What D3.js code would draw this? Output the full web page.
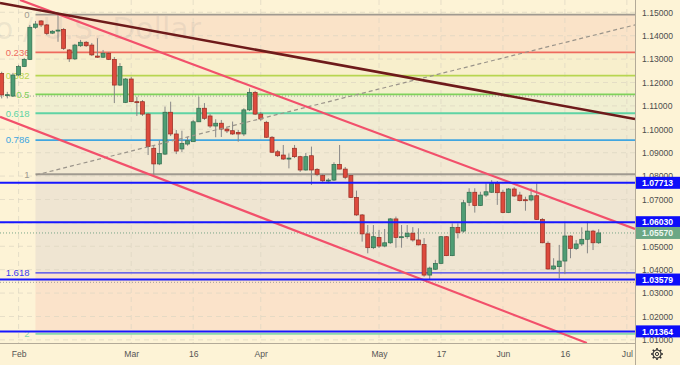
<!DOCTYPE html>
<html>
<head>
<meta charset="utf-8">
<script src="https://cdn.jsdelivr.net/npm/d3@7"></script>
<style>
  html, body { margin: 0; padding: 0; background: #fdf3d6; }
  svg { display: block; font-family: "Liberation Sans", Arial, sans-serif; }
</style>
</head>
<body>
<svg></svg>
<script>
// EUR/USD daily, 27 Jan - 24 Jun 2022 (one value per trading day)
const opens = [
  1.1239, 1.1146, 1.1142, 1.1232, 1.1268, 1.1299, 1.1436, 1.1463, 1.1446, 1.1411,
  1.1420, 1.1427, 1.1339, 1.1301, 1.1357, 1.1372, 1.1360, 1.1313, 1.1308, 1.1325,
  1.1299, 1.1189, 1.1115, 1.1215, 1.1118, 1.1118, 1.1065, 1.0919, 1.0852, 1.0894,
  1.1073, 1.0980, 1.0916, 1.0937, 1.0947, 1.1032, 1.1090, 1.1057, 1.1014, 1.1026,
  1.1001, 1.0994, 1.0987, 1.0980, 1.1083, 1.1158, 1.1065, 1.1030, 1.0966, 1.0904,
  1.0890, 1.0876, 1.0919, 1.0883, 1.0826, 1.0887, 1.0829, 1.0802, 1.0781, 1.0783,
  1.0850, 1.0830, 1.0802, 1.0709, 1.0634, 1.0553, 1.0494, 1.0538, 1.0501, 1.0515,
  1.0617, 1.0538, 1.0541, 1.0556, 1.0527, 1.0508, 1.0377, 1.0402, 1.0427, 1.0541,
  1.0460, 1.0581, 1.0565, 1.0688, 1.0731, 1.0674, 1.0719, 1.0731, 1.0769, 1.0731,
  1.0644, 1.0745, 1.0719, 1.0699, 1.0698, 1.0716, 1.0615, 1.0513, 1.0403, 1.0413,
  1.0437, 1.0544, 1.0491, 1.0510, 1.0530, 1.0565, 1.0515
];
const highs = [
  1.1246, 1.1160, 1.1241, 1.1275, 1.1305, 1.1446, 1.1463, 1.1467, 1.1450, 1.1424,
  1.1489, 1.1433, 1.1343, 1.1365, 1.1382, 1.1377, 1.1369, 1.1389, 1.1339, 1.1330,
  1.1309, 1.1283, 1.1219, 1.1224, 1.1139, 1.1125, 1.1070, 1.0929, 1.0954, 1.1097,
  1.1118, 1.0997, 1.0994, 1.0968, 1.1040, 1.1139, 1.1112, 1.1065, 1.1043, 1.1040,
  1.1006, 1.1033, 1.0997, 1.1090, 1.1175, 1.1164, 1.1074, 1.1036, 1.0971, 1.0912,
  1.0933, 1.0897, 1.0933, 1.0887, 1.0899, 1.0926, 1.0834, 1.0809, 1.0791, 1.0859,
  1.0933, 1.0839, 1.0805, 1.0738, 1.0638, 1.0591, 1.0591, 1.0570, 1.0574, 1.0621,
  1.0627, 1.0591, 1.0591, 1.0582, 1.0577, 1.0535, 1.0413, 1.0442, 1.0544, 1.0544,
  1.0598, 1.0598, 1.0698, 1.0748, 1.0748, 1.0733, 1.0769, 1.0783, 1.0779, 1.0741,
  1.0749, 1.0753, 1.0733, 1.0712, 1.0748, 1.0769, 1.0621, 1.0521, 1.0449, 1.0506,
  1.0605, 1.0547, 1.0527, 1.0581, 1.0605, 1.0570, 1.0573
];
const lows = [
  1.1132, 1.1132, 1.1138, 1.1228, 1.1266, 1.1296, 1.1429, 1.1437, 1.1403, 1.1407,
  1.1374, 1.1339, 1.1288, 1.1296, 1.1352, 1.1352, 1.1313, 1.1305, 1.1305, 1.1296,
  1.1112, 1.1185, 1.1112, 1.1117, 1.1057, 1.1057, 1.0890, 1.0805, 1.0847, 1.0890,
  1.0971, 1.0894, 1.0903, 1.0930, 1.0946, 1.1031, 1.1040, 1.1006, 1.0966, 1.0967,
  1.0984, 1.0976, 1.0947, 1.0971, 1.1078, 1.1061, 1.1036, 1.0963, 1.0899, 1.0882,
  1.0869, 1.0833, 1.0877, 1.0818, 1.0823, 1.0762, 1.0800, 1.0774, 1.0769, 1.0779,
  1.0829, 1.0787, 1.0706, 1.0630, 1.0520, 1.0470, 1.0488, 1.0493, 1.0496, 1.0510,
  1.0494, 1.0494, 1.0532, 1.0520, 1.0504, 1.0370, 1.0356, 1.0399, 1.0424, 1.0458,
  1.0458, 1.0534, 1.0558, 1.0672, 1.0644, 1.0672, 1.0711, 1.0728, 1.0677, 1.0641,
  1.0642, 1.0711, 1.0692, 1.0652, 1.0692, 1.0613, 1.0513, 1.0400, 1.0399, 1.0363,
  1.0382, 1.0449, 1.0484, 1.0501, 1.0470, 1.0484, 1.0510
];
const closes = [
  1.1147, 1.1148, 1.1232, 1.1268, 1.1299, 1.1436, 1.1450, 1.1446, 1.1410, 1.1419,
  1.1424, 1.1346, 1.1301, 1.1360, 1.1372, 1.1357, 1.1318, 1.1308, 1.1325, 1.1299,
  1.1189, 1.1268, 1.1215, 1.1118, 1.1117, 1.1065, 1.0926, 1.0852, 1.0897, 1.1073,
  1.0980, 1.0907, 1.0940, 1.0951, 1.1032, 1.1090, 1.1047, 1.1014, 1.1026, 1.1001,
  1.0993, 1.0980, 1.0980, 1.1083, 1.1158, 1.1065, 1.1044, 1.0966, 1.0902, 1.0887,
  1.0873, 1.0877, 1.0883, 1.0826, 1.0883, 1.0826, 1.0808, 1.0780, 1.0783, 1.0850,
  1.0830, 1.0795, 1.0709, 1.0634, 1.0553, 1.0494, 1.0541, 1.0501, 1.0515, 1.0617,
  1.0538, 1.0541, 1.0556, 1.0527, 1.0506, 1.0377, 1.0407, 1.0427, 1.0541, 1.0460,
  1.0581, 1.0558, 1.0686, 1.0731, 1.0674, 1.0719, 1.0733, 1.0769, 1.0729, 1.0644,
  1.0745, 1.0715, 1.0695, 1.0697, 1.0716, 1.0615, 1.0515, 1.0403, 1.0416, 1.0437,
  1.0544, 1.0491, 1.0510, 1.0530, 1.0565, 1.0515, 1.0557
];

const priceTicks = [1.15, 1.14, 1.13, 1.12, 1.11, 1.10, 1.09, 1.08, 1.07, 1.06, 1.05, 1.04, 1.03, 1.02, 1.01];
const dateTicks = ['2022-02-01', '2022-03-01', '2022-03-16', '2022-04-01', '2022-05-02', '2022-05-17', '2022-06-01', '2022-06-16', '2022-07-01'];
const dateTickLabels = ['Feb', 'Mar', '16', 'Apr', 'May', '17', 'Jun', '16', 'Jul'];

// fibonacci retracement (10 Feb high -> 7 Mar low)
const fibLevels = [0, 0.236, 0.382, 0.5, 0.618, 0.786, 1, 1.618, 2];
const fibHigh = 1.1490;
const fibLow = 1.0808;
const fibStart = '2022-02-04';

const levelPrices = [1.07713, 1.06030, 1.03579, 1.01364];
const lastPrice = 1.05570;
const dottedPrices = [1.1142, 1.0346];

// drawn lines: [bar number from 27 Jan, price]
const resistanceLine = [[-0.3, 1.1540], [112.45, 1.1044]];
const channelTop = [[3.25, 1.1553], [112.45, 1.0574]];
const channelBottom = [[-0.3, 1.1053], [103.9, 1.0087]];
const fibTrend = [[6.09, 1.0805], [112.45, 1.1446]];

document.addEventListener('DOMContentLoaded', function() {
  const width = 680, height = 365;
  const plotW = 635, plotH = 343;

  const svg = d3.select('svg')
    .attr('width', width)
    .attr('height', height);

  const parse = d3.timeParse('%Y-%m-%d');
  const tradingDays = d3.timeDay.range(new Date(2022, 0, 27), new Date(2022, 6, 2))
    .filter(d => d.getDay() !== 0 && d.getDay() !== 6);
  const dayIndex = s => tradingDays.findIndex(t => +t === +parse(s));

  const candles = opens.map((o, i) => ({ i: i, o: o, h: highs[i], l: lows[i], c: closes[i] }));

  const x = d3.scaleLinear().domain([-0.3, 112.45]).range([0, plotW]);
  const y = d3.scaleLinear().domain([1.15, 1.01]).range([12.3, 339.9]);

  svg.append('rect').attr('width', width).attr('height', height).attr('fill', '#fdf3d6');

  svg.append('defs').append('clipPath').attr('id', 'plot')
    .append('rect').attr('width', plotW).attr('height', plotH);

  const plot = svg.append('g').attr('clip-path', 'url(#plot)');

  // fib zones
  const fibPrice = lvl => fibHigh - lvl * (fibHigh - fibLow);
  const fibX = x(dayIndex(fibStart));
  const bandColors = ['#fae3c8', '#f8efcc', '#f4f0cc', '#f0efd1', '#f1ebd2', '#f2e9d3', '#efe5d2', '#fbe3ca'];
  const fibColors = ['#a09a90', '#ee6a5e', '#b7d550', '#7fd15b', '#5fd3a4', '#40a6e0', '#a09a90', '#3c3cf0', '#86d8ae'];

  plot.append('g').selectAll('rect')
    .data(fibLevels.slice(0, -1))
    .enter().append('rect')
    .attr('x', fibX)
    .attr('y', d => y(fibPrice(d)))
    .attr('width', plotW - fibX)
    .attr('height', (d, i) => y(fibPrice(fibLevels[i + 1])) - y(fibPrice(d)))
    .attr('fill', (d, i) => bandColors[i]);

  // grid
  plot.append('g').selectAll('line')
    .data(priceTicks)
    .enter().append('line')
    .attr('x1', 0).attr('x2', plotW)
    .attr('y1', d => y(d)).attr('y2', d => y(d))
    .attr('stroke', '#ddd5c2').attr('stroke-opacity', 0.7)
    .attr('stroke-dasharray', '5,4');

  plot.append('g').selectAll('line')
    .data(dateTicks)
    .enter().append('line')
    .attr('x1', d => x(dayIndex(d))).attr('x2', d => x(dayIndex(d)))
    .attr('y1', 0).attr('y2', plotH)
    .attr('stroke', '#ddd5c2').attr('stroke-opacity', 0.7)
    .attr('stroke-dasharray', '5,4');

  // watermark
  plot.append('text')
    .attr('x', 201).attr('y', 39)
    .attr('text-anchor', 'end')
    .attr('font-family', '"DejaVu Sans", sans-serif')
    .attr('font-size', 30)
    .attr('fill', '#9a9a9a').attr('fill-opacity', 0.16)
    .text('Euro / U.S. Dollar');

  // fib lines + labels
  plot.append('g').selectAll('line')
    .data(fibLevels)
    .enter().append('line')
    .attr('x1', fibX).attr('x2', plotW)
    .attr('y1', d => y(fibPrice(d))).attr('y2', d => y(fibPrice(d)))
    .attr('stroke', (d, i) => fibColors[i])
    .attr('stroke-width', (d, i) => i === 7 ? 1.3 : 1.8);

  plot.append('g').selectAll('text')
    .data(fibLevels)
    .enter().append('text')
    .attr('x', fibX - 6)
    .attr('y', d => y(fibPrice(d)) + 3.4)
    .attr('text-anchor', 'end')
    .attr('font-size', 9.5)
    .attr('fill', (d, i) => fibColors[i])
    .text(d => String(d));

  // dotted price lines
  plot.append('g').selectAll('line')
    .data(dottedPrices)
    .enter().append('line')
    .attr('x1', 0).attr('x2', plotW)
    .attr('y1', d => y(d)).attr('y2', d => y(d))
    .attr('stroke', '#8f8f8f').attr('stroke-opacity', 0.8)
    .attr('stroke-dasharray', '1,2');

  plot.append('line')
    .attr('x1', 0).attr('x2', plotW)
    .attr('y1', y(lastPrice)).attr('y2', y(lastPrice))
    .attr('stroke', '#6a9c80').attr('stroke-opacity', 0.9)
    .attr('stroke-dasharray', '1,2');

  // candles
  const candle = plot.append('g').selectAll('g')
    .data(candles)
    .enter().append('g');

  candle.append('line')
    .attr('x1', d => x(d.i)).attr('x2', d => x(d.i))
    .attr('y1', d => y(d.h)).attr('y2', d => y(d.l))
    .attr('stroke', '#878787')
    .attr('stroke-width', 1);

  candle.append('rect')
    .attr('x', d => x(d.i) - 2)
    .attr('y', d => y(Math.max(d.o, d.c)))
    .attr('width', 4)
    .attr('height', d => Math.max(1, Math.abs(y(d.o) - y(d.c))))
    .attr('fill', d => d.c >= d.o ? '#4f9d74' : '#dd4a3d')
    .attr('stroke', d => d.c >= d.o ? '#2f6c4d' : '#972c22')
    .attr('stroke-width', 0.7);

  // drawings
  const line = d3.line().x(d => x(d[0])).y(d => y(d[1]));

  plot.append('path').datum(fibTrend)
    .attr('d', line).attr('fill', 'none')
    .attr('stroke', '#9a948a').attr('stroke-width', 1.2)
    .attr('stroke-dasharray', '4,3');

  plot.append('g').selectAll('path')
    .data([channelTop, channelBottom])
    .enter().append('path')
    .attr('d', line).attr('fill', 'none')
    .attr('stroke', '#f2506b').attr('stroke-width', 2.2);

  plot.append('path').datum(resistanceLine)
    .attr('d', line).attr('fill', 'none')
    .attr('stroke', '#6e1a1a').attr('stroke-width', 2.6);

  plot.append('g').selectAll('line')
    .data(levelPrices)
    .enter().append('line')
    .attr('x1', 0).attr('x2', plotW)
    .attr('y1', d => y(d)).attr('y2', d => y(d))
    .attr('stroke', '#1616ff').attr('stroke-width', 2);

  // axes frame
  svg.append('line')
    .attr('x1', plotW + 0.5).attr('x2', plotW + 0.5)
    .attr('y1', 0).attr('y2', height)
    .attr('stroke', '#b3aa98');
  svg.append('line')
    .attr('x1', 0).attr('x2', plotW)
    .attr('y1', plotH + 0.5).attr('y2', plotH + 0.5)
    .attr('stroke', '#b3aa98');

  const yAxis = svg.append('g')
    .attr('transform', `translate(${plotW},0)`)
    .call(d3.axisRight(y).tickValues(priceTicks).tickFormat(d3.format('.5f')).tickSize(0).tickPadding(7));
  yAxis.select('.domain').remove();
  yAxis.selectAll('text')
    .attr('font-family', '"Liberation Sans", Arial, sans-serif')
    .attr('font-size', 8.6)
    .attr('fill', '#4d4d4d');

  const xAxis = svg.append('g')
    .attr('transform', `translate(0,${plotH})`)
    .call(d3.axisBottom(x).tickValues(dateTicks.map(dayIndex))
      .tickFormat((d, i) => dateTickLabels[i]).tickSize(0).tickPadding(8));
  xAxis.select('.domain').remove();
  xAxis.selectAll('text')
    .attr('font-family', '"Liberation Sans", Arial, sans-serif')
    .attr('font-size', 8.6)
    .attr('fill', '#555');

  // price labels
  const tags = svg.append('g').selectAll('g')
    .data(levelPrices.map(p => ({ p: p, fill: '#0d0dfa', text: '#ffffff' }))
      .concat([{ p: lastPrice, fill: '#6ca784', text: '#eef7f1' }]))
    .enter().append('g');

  tags.append('rect')
    .attr('x', plotW + 1).attr('y', d => y(d.p) - 6)
    .attr('width', width - plotW - 1).attr('height', 12)
    .attr('fill', d => d.fill);

  tags.append('text')
    .attr('x', plotW + 7).attr('y', d => y(d.p) + 3.2)
    .attr('font-size', 8.6)
    .attr('font-weight', 'bold')
    .attr('fill', d => d.text)
    .text(d => d3.format('.5f')(d.p));

  // settings gear
  const gear = svg.append('g').attr('transform', 'translate(657,354)')
    .attr('stroke', '#333').attr('fill', 'none');
  gear.append('circle').attr('r', 4).attr('stroke-width', 1.2);
  gear.append('circle').attr('r', 1.6).attr('stroke-width', 1);
  gear.selectAll('line')
    .data(d3.range(8))
    .enter().append('line')
    .attr('x1', d => 4 * Math.cos(d * Math.PI / 4))
    .attr('y1', d => 4 * Math.sin(d * Math.PI / 4))
    .attr('x2', d => 6 * Math.cos(d * Math.PI / 4))
    .attr('y2', d => 6 * Math.sin(d * Math.PI / 4))
    .attr('stroke-width', 1.6);
});
</script>
</body>
</html>
